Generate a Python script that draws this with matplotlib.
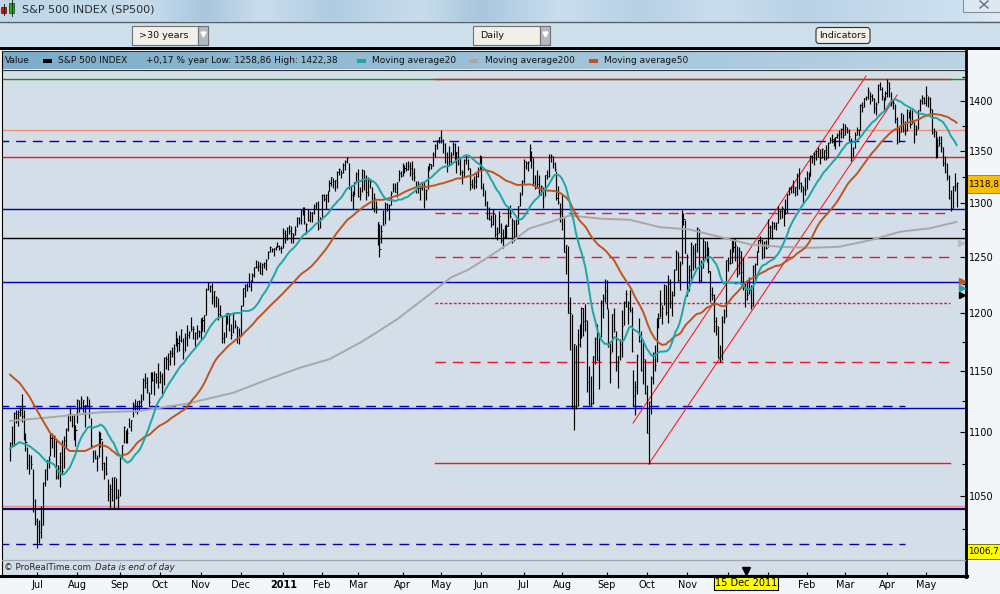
import numpy as np
import pandas as pd
import matplotlib
matplotlib.use("Agg")
import matplotlib.pyplot as plt
from matplotlib.patches import Rectangle, FancyBboxPatch
from matplotlib.ticker import NullFormatter

# ---- S&P 500 daily bars, 11 Jun 2010 .. 23 May 2012 ----
hi_2010 = [1092, 1105, 1116, 1118, 1118, 1120, 1131, 1118, 1099, 1088, 1083, 1082, 1071, 1048,
           1033, 1032, 1042, 1061, 1071, 1078, 1081, 1099, 1099, 1098, 1094, 1074, 1084, 1094, 1097, 1103, 1115, 1120, 1115, 1115, 1106,
           1127, 1126, 1129, 1126, 1122, 1129, 1127, 1111, 1086, 1086, 1082, 1101, 1100, 1093, 1076, 1081, 1063, 1059, 1065, 1065, 1064, 1055,
           1081, 1090, 1105, 1102, 1103, 1111, 1110, 1124, 1127, 1125, 1126, 1131, 1144, 1148, 1145, 1133, 1149, 1149, 1150, 1148, 1157,
           1150, 1148, 1162, 1163, 1165, 1168, 1170, 1173, 1184, 1178, 1181, 1186, 1178, 1182, 1189, 1184, 1196, 1188, 1183, 1189, 1185,
           1195, 1196, 1198, 1222, 1227, 1224, 1226, 1219, 1215, 1213, 1207, 1197, 1183, 1200, 1200, 1198, 1190, 1199, 1194, 1188, 1187,
           1207, 1222, 1225, 1226, 1235, 1229, 1235, 1241, 1247, 1246, 1245, 1244, 1245, 1248, 1255, 1260, 1258, 1258, 1260, 1263, 1261, 1260]
lo_2010 = [1077, 1089, 1089, 1107, 1105, 1113, 1108, 1094, 1085, 1071, 1067, 1071, 1038, 1028,
           1011, 1015, 1018, 1028, 1058, 1062, 1072, 1081, 1087, 1080, 1063, 1063, 1057, 1067, 1072, 1087, 1101, 1109, 1104, 1094, 1089,
           1107, 1116, 1119, 1116, 1104, 1120, 1111, 1088, 1076, 1079, 1069, 1080, 1088, 1070, 1063, 1066, 1046, 1040, 1046, 1040, 1048, 1040,
           1050, 1080, 1091, 1091, 1091, 1104, 1101, 1112, 1116, 1115, 1118, 1120, 1126, 1136, 1132, 1121, 1131, 1142, 1130, 1140, 1136,
           1140, 1131, 1138, 1152, 1151, 1155, 1162, 1155, 1171, 1166, 1167, 1175, 1160, 1167, 1171, 1178, 1184, 1177, 1171, 1177, 1179,
           1177, 1184, 1183, 1198, 1220, 1218, 1208, 1205, 1205, 1194, 1197, 1174, 1174, 1179, 1190, 1184, 1177, 1182, 1187, 1174, 1173,
           1181, 1206, 1214, 1219, 1223, 1219, 1227, 1232, 1240, 1237, 1234, 1233, 1240, 1238, 1248, 1254, 1254, 1251, 1256, 1259, 1256, 1253]
cl_2010 = [1091.6, 1089.6, 1115.2, 1114.6, 1116.0, 1117.5, 1113.2, 1095.3, 1092.0, 1073.7, 1076.8, 1074.6, 1041.2, 1030.7,
           1027.4, 1022.6, 1028.1, 1060.3, 1070.3, 1077.9, 1078.8, 1095.3, 1095.2, 1096.5, 1064.9, 1071.3, 1083.5, 1069.6, 1093.7, 1102.7, 1115.0, 1113.8, 1106.1, 1101.5, 1101.6,
           1125.9, 1120.5, 1127.2, 1125.8, 1121.6, 1127.8, 1121.1, 1089.5, 1083.6, 1079.3, 1079.4, 1092.5, 1094.2, 1075.6, 1071.7, 1067.4, 1051.9, 1055.3, 1047.2, 1064.6, 1048.9, 1049.3,
           1080.3, 1090.1, 1104.5, 1091.8, 1098.9, 1104.2, 1109.6, 1121.9, 1121.1, 1125.1, 1124.7, 1125.6, 1142.7, 1139.8, 1134.3, 1124.8, 1148.7, 1142.2, 1147.7, 1144.7, 1141.2,
           1146.2, 1137.0, 1160.8, 1160.0, 1158.1, 1165.2, 1165.3, 1169.8, 1178.1, 1173.8, 1176.2, 1184.7, 1165.9, 1178.2, 1180.3, 1183.1, 1185.6, 1185.6, 1182.5, 1183.8, 1183.3,
           1184.4, 1193.6, 1198.0, 1221.1, 1225.9, 1223.3, 1213.4, 1218.7, 1213.5, 1199.2, 1197.8, 1178.3, 1178.6, 1196.7, 1199.7, 1197.8, 1180.7, 1198.4, 1189.4, 1187.8, 1180.6,
           1206.1, 1221.5, 1224.7, 1223.1, 1223.8, 1228.3, 1233.0, 1240.4, 1240.5, 1241.6, 1235.2, 1242.9, 1243.9, 1247.1, 1254.6, 1258.8, 1256.8, 1257.5, 1258.5, 1259.8, 1257.6, 1257.6]

hi_2011 = [1276, 1274, 1277, 1279, 1278, 1272, 1278, 1287, 1287, 1293, 1296, 1296, 1281, 1294, 1292, 1291, 1299, 1301, 1302, 1287,
           1308, 1308, 1308, 1311, 1322, 1325, 1324, 1322, 1330, 1333, 1331, 1338, 1341, 1344, 1338, 1316, 1311, 1320, 1329,
           1332, 1315, 1332, 1331, 1327, 1325, 1323, 1315, 1309, 1302, 1282, 1280, 1279, 1293, 1301, 1300, 1299, 1311, 1319, 1319, 1320, 1331, 1330,
           1338, 1336, 1339, 1340, 1339, 1340, 1333, 1321, 1321, 1315, 1320, 1320, 1313, 1335, 1338, 1337, 1349, 1357, 1361, 1364,
           1370.6, 1362, 1358, 1349, 1355, 1349, 1359, 1358, 1349, 1355, 1343, 1331, 1342, 1346, 1342, 1333, 1323, 1326, 1328, 1334, 1346,
           1345, 1319, 1312, 1302, 1296, 1288, 1294, 1289, 1277, 1292, 1281, 1275, 1279, 1280, 1296, 1298, 1286, 1284, 1285, 1297, 1310, 1322,
           1342, 1340, 1340, 1356.5, 1350, 1343, 1327, 1331, 1327, 1317, 1315, 1327, 1331, 1347, 1347, 1345, 1339, 1330, 1316, 1300,
           1308, 1286, 1261, 1260, 1214, 1199, 1173, 1172, 1186, 1190, 1205, 1204, 1208, 1194, 1154, 1146, 1162, 1179, 1190, 1182, 1211, 1216, 1230,
           1229, 1203, 1174, 1199, 1204, 1184, 1163, 1177, 1202, 1210, 1220, 1210, 1220, 1205, 1151, 1142, 1164, 1195, 1184, 1175, 1160,
           1138, 1125, 1146, 1166, 1172, 1195, 1200, 1220, 1207, 1225, 1224, 1233, 1230, 1219, 1239, 1256, 1254, 1246, 1293, 1290, 1284,
           1252, 1242, 1263, 1261, 1262, 1277, 1275, 1247, 1267, 1264, 1264, 1259, 1237, 1223, 1216, 1196, 1188, 1172, 1197, 1203, 1247,
           1250, 1257, 1267, 1267, 1267, 1260, 1259, 1255, 1250, 1226, 1228, 1232, 1224, 1242, 1244, 1255, 1265, 1269, 1266, 1264, 1265]
lo_2011 = [1258, 1262, 1265, 1271, 1262, 1262, 1270, 1277, 1280, 1280, 1288, 1280, 1271, 1283, 1282, 1282, 1289, 1294, 1274, 1276,
           1287, 1302, 1294, 1301, 1311, 1316, 1314, 1311, 1314, 1327, 1324, 1328, 1331, 1338, 1313, 1302, 1294, 1307, 1320,
           1305, 1303, 1310, 1312, 1303, 1306, 1314, 1294, 1291, 1290, 1261, 1250, 1262, 1279, 1280, 1292, 1284, 1298, 1310, 1310, 1305, 1321, 1325,
           1326, 1328, 1330, 1331, 1326, 1322, 1321, 1309, 1309, 1303, 1312, 1295, 1303, 1313, 1331, 1332, 1335, 1344, 1352, 1358,
           1358, 1348, 1338, 1329, 1336, 1338, 1346, 1339, 1328, 1336, 1327, 1318, 1325, 1337, 1331, 1312, 1314, 1313, 1314, 1325, 1331,
           1313, 1306, 1297, 1285, 1284, 1277, 1279, 1268, 1265, 1272, 1262, 1258, 1267, 1267, 1278, 1286, 1262, 1264, 1268, 1280, 1297, 1307,
           1319, 1332, 1330, 1340, 1333, 1317, 1313, 1314, 1306, 1307, 1295, 1306, 1323, 1325, 1339, 1333, 1330, 1303, 1299, 1282,
           1274, 1254, 1234, 1200, 1168, 1119, 1101.5, 1119, 1121, 1170, 1178, 1180, 1184, 1133, 1122, 1121, 1123, 1156, 1159, 1135, 1179, 1195, 1209,
           1203, 1170, 1140, 1166, 1183, 1150, 1136, 1159, 1162, 1189, 1205, 1190, 1201, 1166, 1121, 1114, 1131, 1175, 1150, 1139, 1131,
           1099, 1074.8, 1115, 1139, 1150, 1158, 1187, 1196, 1190, 1207, 1198, 1191, 1204, 1197, 1215, 1238, 1228, 1220, 1243, 1279, 1253,
           1215, 1219, 1226, 1238, 1240, 1254, 1226, 1227, 1240, 1248, 1245, 1235, 1209, 1211, 1183, 1181, 1161, 1158, 1159, 1191, 1196,
           1237, 1243, 1244, 1254, 1246, 1232, 1234, 1227, 1220, 1205, 1211, 1216, 1203, 1206, 1226, 1242, 1254, 1262, 1248, 1249, 1257]
cl_2011 = [1271.9, 1270.2, 1276.6, 1273.9, 1271.5, 1269.8, 1274.5, 1286.0, 1283.8, 1293.2, 1295.0, 1281.9, 1280.3, 1283.4, 1290.8, 1291.2, 1296.6, 1299.5, 1276.3, 1286.1,
           1307.6, 1304.0, 1307.1, 1310.9, 1319.1, 1324.6, 1320.9, 1321.9, 1329.2, 1332.3, 1328.0, 1336.3, 1340.4, 1343.0, 1315.4, 1307.4, 1306.1, 1319.9, 1327.2,
           1306.3, 1308.4, 1331.0, 1321.2, 1310.1, 1321.8, 1320.0, 1295.1, 1304.3, 1296.4, 1281.9, 1256.9, 1273.7, 1279.2, 1298.4, 1293.8, 1297.5, 1309.7, 1313.8, 1310.2, 1319.4, 1328.3, 1325.8,
           1332.4, 1332.9, 1332.6, 1335.5, 1333.5, 1328.2, 1324.5, 1314.2, 1314.4, 1314.5, 1319.7, 1305.1, 1312.6, 1330.4, 1337.4, 1335.3, 1347.2, 1355.7, 1360.5, 1363.6,
           1361.2, 1356.6, 1347.3, 1335.1, 1340.2, 1346.3, 1357.2, 1342.1, 1348.7, 1337.8, 1329.5, 1329.0, 1340.7, 1343.6, 1333.3, 1317.4, 1316.3, 1320.5, 1325.7, 1331.1, 1345.2,
           1314.6, 1312.9, 1300.2, 1286.1, 1284.9, 1279.6, 1289.0, 1271.0, 1271.8, 1287.9, 1265.4, 1267.6, 1271.5, 1278.4, 1295.5, 1287.1, 1283.5, 1268.5, 1280.1, 1296.7, 1307.4, 1320.6,
           1339.7, 1337.9, 1339.2, 1353.2, 1343.8, 1319.5, 1313.6, 1317.7, 1308.9, 1316.1, 1305.4, 1326.7, 1325.8, 1343.8, 1345.0, 1337.4, 1331.9, 1304.9, 1300.7, 1292.3,
           1286.9, 1254.1, 1260.3, 1200.1, 1199.4, 1119.5, 1172.5, 1120.8, 1172.6, 1178.8, 1204.5, 1192.8, 1193.9, 1140.7, 1123.5, 1123.8, 1162.4, 1177.6, 1159.3, 1176.8, 1210.1, 1212.9, 1218.9,
           1204.4, 1174.0, 1165.2, 1198.6, 1185.9, 1154.2, 1162.3, 1172.9, 1188.7, 1209.1, 1216.0, 1204.1, 1202.1, 1166.8, 1129.6, 1136.4, 1163.0, 1175.4, 1151.1, 1160.4, 1131.4,
           1099.2, 1124.0, 1144.0, 1165.0, 1155.5, 1194.9, 1195.5, 1207.3, 1203.7, 1224.6, 1200.9, 1225.4, 1209.9, 1215.4, 1238.3, 1254.2, 1229.1, 1242.0, 1284.6, 1285.1, 1253.3,
           1218.3, 1237.9, 1261.2, 1253.2, 1261.1, 1275.9, 1229.1, 1239.7, 1263.9, 1251.8, 1257.8, 1236.9, 1216.1, 1215.7, 1193.0, 1188.0, 1161.8, 1158.7, 1192.6, 1195.2, 1247.0,
           1244.6, 1244.3, 1257.1, 1258.5, 1261.0, 1234.4, 1255.2, 1236.5, 1225.7, 1211.8, 1215.8, 1219.7, 1205.4, 1241.3, 1243.7, 1254.0, 1265.3, 1265.4, 1249.6, 1263.0, 1257.6]

hi_2012 = [1285, 1279, 1283, 1282, 1282, 1297, 1293, 1297, 1294, 1304, 1308, 1315, 1316, 1322, 1315, 1328, 1333, 1320, 1316, 1325,
           1330, 1329, 1346, 1345, 1349, 1351, 1354, 1352, 1353, 1351, 1356, 1359, 1364, 1367, 1363, 1364, 1368, 1371, 1373, 1378,
           1377, 1374, 1372, 1363, 1354, 1369, 1374, 1372, 1397, 1399, 1403, 1405, 1414, 1409, 1407, 1403, 1399, 1417, 1420, 1414, 1404, 1410,
           1422.4, 1419, 1409, 1401, 1397, 1384, 1375, 1388, 1387, 1380, 1392, 1390, 1392, 1391, 1379, 1376, 1391, 1402, 1406, 1404,
           1415, 1405, 1404, 1392, 1373, 1370, 1363, 1365, 1365, 1354, 1345, 1338, 1327, 1312, 1316, 1328, 1320]
lo_2012 = [1258.9, 1267, 1266, 1275, 1274, 1281, 1285, 1286, 1278, 1289, 1290, 1307, 1309, 1309, 1306, 1307, 1313, 1310, 1300, 1307,
           1313, 1322, 1326, 1338, 1336, 1341, 1344, 1337, 1343, 1341, 1341, 1343, 1358, 1358, 1355, 1352, 1363, 1355, 1363, 1363,
           1366, 1368, 1360, 1340, 1344, 1353, 1366, 1365, 1371, 1389, 1394, 1401, 1402, 1397, 1400, 1388, 1386, 1398, 1411, 1401, 1391, 1401,
           1404, 1404, 1395, 1392, 1378, 1357, 1359, 1369, 1369, 1366, 1370, 1383, 1373, 1378, 1358, 1366, 1372, 1390, 1397, 1397,
           1395, 1394, 1388, 1367, 1364, 1343, 1344, 1355, 1349, 1335, 1328, 1322, 1304, 1292, 1295, 1311, 1296]
cl_2012 = [1277.1, 1277.3, 1281.1, 1277.8, 1280.7, 1292.1, 1292.5, 1295.5, 1289.1, 1293.7, 1308.0, 1314.5, 1315.4, 1316.0, 1314.7, 1326.1, 1318.4, 1316.3, 1313.0, 1312.4,
           1324.1, 1325.5, 1344.9, 1344.3, 1347.1, 1350.0, 1352.0, 1342.6, 1351.8, 1350.5, 1343.2, 1358.0, 1361.2, 1362.2, 1357.7, 1363.5, 1366.0, 1367.6, 1372.2, 1365.7,
           1374.1, 1369.6, 1364.3, 1343.4, 1352.6, 1366.0, 1370.9, 1371.1, 1396.0, 1394.3, 1402.6, 1404.2, 1409.8, 1405.5, 1402.9, 1392.8, 1397.1, 1416.5, 1412.5, 1405.5, 1403.3, 1408.5,
           1419.0, 1413.4, 1399.0, 1398.1, 1382.2, 1358.6, 1368.7, 1387.6, 1370.3, 1369.6, 1390.8, 1385.1, 1376.9, 1378.5, 1366.9, 1372.0, 1390.7, 1400.0, 1403.4, 1397.9,
           1405.8, 1402.3, 1391.6, 1369.1, 1369.6, 1363.7, 1354.6, 1358.0, 1353.4, 1338.4, 1330.7, 1324.8, 1304.9, 1295.2, 1316.0, 1316.6, 1318.9]

holidays = ['2010-07-05', '2010-09-06', '2010-11-25', '2010-12-24', '2011-01-17', '2011-02-21',
            '2011-04-22', '2011-05-30', '2011-07-04', '2011-09-05', '2011-11-24', '2011-12-26',
            '2012-01-02', '2012-01-16', '2012-02-20', '2012-04-06']

# moving averages read off the chart where the bars alone are not enough (bar number, value)
ma20_head_bar = [0, 5, 10, 15, 19]
ma20_head_val = [1087, 1092, 1089, 1083, 1076]
ma50_head_bar = [0, 5, 10, 16, 21, 26, 31, 39, 46, 49]
ma50_head_val = [1147, 1140, 1129, 1112, 1099, 1091, 1085, 1085, 1090, 1089]
ma200_bar = [0, 21, 47, 67, 92, 116, 134, 151, 166, 183, 201, 218, 229, 238, 249, 260, 270, 281,
             291, 307, 322, 338, 353, 369, 385, 400, 416, 431, 447, 463, 478, 492]
ma200_val = [1109, 1112, 1116, 1117, 1123, 1132, 1143, 1153, 1160, 1175, 1194, 1216, 1231, 1238, 1250, 1263,
             1276, 1282, 1288, 1285, 1284, 1277, 1275, 1268, 1261, 1259, 1258, 1259, 1265, 1273, 1276, 1282]

# drawn levels and trend lines
lvl_year_high = 1422.4
lvl_salmon = 1370.4
lvl_blue_dash_hi = 1360.2
lvl_red = 1343.7
lvl_blue_1 = 1293.8
lvl_red_dash_1 = 1290.3
lvl_black = 1266.8
lvl_red_dash_2 = 1249.4
lvl_blue_2 = 1227.4
lvl_red_dot = 1208.2
lvl_red_dash_3 = 1157.4
lvl_blue_dash_mid = 1120.9
lvl_blue_3 = 1119.5
lvl_red_low = 1075.5
lvl_pink = 1042.3
lvl_navy = 1040.4
lvl_blue_dash_lo = 1013.7
partial_from, partial_to, dash_to = 221, 488.5, 465
trend1_bar, trend1_val = [323.8, 444.9], [1107.3, 1425.7]
trend2_bar, trend2_val = [332, 461], [1074.8, 1406.0]

# ---------------------------------------------------------------
hi = np.array(hi_2010 + hi_2011 + hi_2012, float)
lo = np.array(lo_2010 + lo_2011 + lo_2012, float)
cl = np.array(cl_2010 + cl_2011 + cl_2012, float)
hi = np.maximum(hi, cl)
lo = np.minimum(lo, cl)
n = len(cl)
dates = pd.date_range('2010-06-11', '2012-05-23', freq=pd.offsets.CustomBusinessDay(holidays=holidays))
bars = np.arange(n)

close = pd.Series(cl)
ma20 = close.rolling(20).mean().to_numpy()
ma50 = close.rolling(50).mean().to_numpy()
ma20_x = list(ma20_head_bar[:-1]) + list(bars[19:])
ma20_y = list(ma20_head_val[:-1]) + list(ma20[19:])
ma50_x = list(ma50_head_bar[:-1]) + list(bars[49:])
ma50_y = list(ma50_head_val[:-1]) + list(ma50[49:])

RED = '#ff1414'
RED_D = '#f01430'
NAVY = '#0000b4'

W, H = 1000, 594
fig = plt.figure(figsize=(10, 5.94), dpi=100, facecolor='#f3f6f9')

# background / window chrome in pixel coordinates
bg = fig.add_axes([0, 0, 1, 1], zorder=0)
bg.axis('off')
xs = np.arange(1000)
anch_x = [0, 150, 205, 260, 330, 420, 480, 560, 640, 720, 800, 960, 1000]
anch_c = np.array([(190, 214, 232), (198, 220, 236), (168, 198, 222), (202, 222, 238), (176, 204, 226),
                   (200, 221, 236), (168, 198, 222), (202, 222, 238), (182, 208, 229), (202, 222, 238),
                   (186, 210, 230), (205, 225, 240), (225, 235, 245)]) / 255
grad = np.stack([np.interp(xs, anch_x, anch_c[:, k]) for k in range(3)], axis=-1)[None, :, :]
bg.imshow(grad, extent=(0, 1000, 21, 0), aspect='auto', interpolation='bilinear')
bg.add_patch(Rectangle((0, 21), 1000, 26, color='#cddfeb', lw=0))
bg.plot([0, 1000], [21.5, 21.5], color='#56606a', lw=1)
bg.add_patch(Rectangle((0, 46.5), 1000, 3, color='black', lw=0))
# title
bg.add_patch(Rectangle((1, 7), 5, 6, facecolor='#e01010', edgecolor='#600000', lw=0.5))
bg.plot([3.5, 3.5], [4, 15], color='#300000', lw=0.6)
bg.add_patch(Rectangle((9, 3), 5, 10, facecolor='#20b020', edgecolor='#004000', lw=0.5))
bg.plot([11.5, 11.5], [0, 16], color='#002000', lw=0.6)
bg.text(22, 9.5, 'S&P 500 INDEX (SP500)', fontsize=8, color='#2a2a2a', va='center')
bg.add_patch(Rectangle((963, -2), 40, 14, facecolor='#dfe8f0', edgecolor='#8090a0', lw=0.8))
bg.plot([980, 988], [1, 8], color='#607080', lw=1)
bg.plot([980, 988], [8, 1], color='#607080', lw=1)
# toolbar widgets
for x0, x1, label in [(132, 198, '>30 years'), (473, 540, 'Daily')]:
    bg.add_patch(Rectangle((x0, 26), x1 - x0, 19, facecolor='#f2efe8', edgecolor='#707070', lw=0.8))
    bg.add_patch(Rectangle((x1, 26), 10, 19, facecolor='#b4b8c0', edgecolor='#707070', lw=0.8))
    bg.plot([x1 + 5], [34], marker='v', ms=3.5, color='white')
    bg.text(x0 + 7, 36, label, fontsize=6.8, va='center', color='#111')
bg.add_patch(FancyBboxPatch((816, 27.5), 54, 16, boxstyle='round,pad=0,rounding_size=3',
                            facecolor='#f2efe8', edgecolor='#303030', lw=0.8))
bg.text(843, 35.5, 'Indicators', fontsize=6.8, ha='center', va='center', color='#111')
# legend row
lg = np.linspace(0, 1, 200)
c0, c1 = np.array([124, 172, 202]) / 255, np.array([186, 212, 228]) / 255
lgrad = (c0[None, :] * (1 - lg[:, None]) + c1[None, :] * lg[:, None])[None, :, :]
bg.imshow(lgrad, extent=(2, 965, 69, 51.5), aspect='auto')
LF = 6.5
bg.text(5, 60.5, 'Value', fontsize=LF, va='center', color='#111')
bg.add_patch(Rectangle((43, 59), 9, 4, color='black', lw=0))
bg.text(58, 60.5, 'S&P 500 INDEX', fontsize=LF, va='center', color='#111')
bg.text(146, 60.5, '+0,17 %', fontsize=LF, va='center', color='#111')
bg.text(188, 60.5, 'year Low: 1258,86 High: 1422,38', fontsize=LF, va='center', color='#111')
bg.add_patch(Rectangle((357, 59), 9, 4, color='#1fa5a5', lw=0))
bg.text(372, 60.5, 'Moving average20', fontsize=LF, va='center', color='#111')
bg.add_patch(Rectangle((469, 59), 9, 4, color='#a8a8a8', lw=0))
bg.text(485, 60.5, 'Moving average200', fontsize=LF, va='center', color='#111')
bg.add_patch(Rectangle((589, 59), 9, 4, color='#c0541e', lw=0))
bg.text(604, 60.5, 'Moving average50', fontsize=LF, va='center', color='#111')
bg.set_xlim(0, W)
bg.set_ylim(H, 0)

# main price panel
ax = fig.add_axes([0.002, 18 / 594, 0.964, 506 / 594], zorder=1)
ax.set_facecolor('#d3dee8')
ax.set_yscale('log')
for s in ax.spines.values():
    s.set_visible(False)

LW = 1.0


def level(y, color, x0=None, x1=None, style='-', lw=LW, z=1):
    if x0 is None:
        ax.axhline(y, color=color, lw=lw, linestyle=style, zorder=z)
    else:
        ax.plot([x0, x1], [y, y], color=color, lw=lw, linestyle=style, zorder=z)


level(lvl_year_high, '#1a8a1a')
level(lvl_year_high, RED, partial_from, partial_to, z=1.1)
level(lvl_salmon, '#f49070')
level(lvl_blue_dash_hi, NAVY, -10, dash_to, (0, (7, 5)))
level(lvl_red, RED)
level(lvl_blue_1, NAVY)
level(lvl_red_dash_1, RED_D, partial_from, partial_to, (0, (7, 5)))
level(lvl_black, 'black')
level(lvl_red_dash_2, RED_D, partial_from, partial_to, (0, (7.5, 5)))
level(lvl_blue_2, NAVY)
level(lvl_red_dot, RED_D, partial_from, partial_to, (0, (2, 1.3)))
level(lvl_red_dash_3, RED_D, partial_from, partial_to, (0, (7.5, 5)))
level(lvl_blue_dash_mid, NAVY, -10, dash_to, (0, (7, 5)))
level(lvl_blue_3, NAVY)
level(lvl_red_low, RED, partial_from, partial_to)
level(lvl_pink, '#f48890')
level(lvl_navy, '#0a0a60', lw=1.6)
level(lvl_blue_dash_lo, NAVY, -10, dash_to, (0, (7, 5)))

ax.plot(trend1_bar, trend1_val, color=RED, lw=0.75, zorder=2)
ax.plot(trend2_bar, trend2_val, color=RED, lw=0.75, zorder=2)

ax.vlines(bars, lo, hi, color='black', lw=0.85, zorder=3)
ax.hlines(cl, bars, bars + 0.55, color='black', lw=0.7, zorder=3)

ax.plot(ma200_bar, ma200_val, color='#a8a8a8', lw=1.4, zorder=4, solid_capstyle='round')
ax.plot(ma50_x, ma50_y, color='#c0541e', lw=1.4, zorder=4)
ax.plot(ma20_x, ma20_y, color='#1fa5a5', lw=1.4, zorder=4)

ax.set_xlim(-4.19, 496.85)
ax.set_ylim(990.56, 1431.97)

yt = [1050, 1100, 1150, 1200, 1250, 1300, 1350, 1400]
ax.yaxis.tick_right()
ax.set_yticks(yt)
ax.set_yticklabels([str(v) for v in yt])
ax.set_yticks([1025, 1075, 1125, 1175, 1225, 1275, 1325, 1375, 1425], minor=True)
ax.yaxis.set_minor_formatter(NullFormatter())
ax.tick_params(axis='y', which='major', direction='in', length=4, width=0.8, pad=2, labelsize=7)
ax.tick_params(axis='y', which='minor', direction='in', length=3, width=0.8)

months = dates.month.to_numpy()
starts = np.flatnonzero(np.diff(months) != 0) + 1
labels = []
for i in starts:
    d = dates[i]
    if (d.year, d.month) in [(2011, 12), (2012, 1)]:
        labels.append('')
    elif d.month == 1:
        labels.append(str(d.year))
    else:
        labels.append(d.strftime('%b'))
ax.set_xticks(starts)
ax.set_xticklabels(labels)
for t in ax.get_xticklabels():
    if t.get_text().isdigit():
        t.set_fontweight('bold')
ax.tick_params(axis='x', which='major', direction='in', length=3, width=0.8, pad=3, labelsize=7)
ax.tick_params(axis='x', which='minor', bottom=False)

# overlay: frame, tags, notes
ov = fig.add_axes([0, 0, 1, 1], zorder=3)
ov.patch.set_alpha(0)
ov.axis('off')
ov.plot([1.5, 1.5], [51, 577], color='black', lw=0.8)
ov.plot([1.5, 966], [51, 51], color='#303030', lw=0.8)
ov.plot([2, 965], [69.5, 69.5], color='#303030', lw=0.8)
ov.plot([966, 966], [51, 577], color='black', lw=2)
ov.plot([1, 967], [576, 576], color='black', lw=2.2)
ov.plot([2, 965], [560, 560], color='#a4a8ae', lw=0.9)
ov.text(4, 568, '\u00a9 ProRealTime.com', fontsize=6.3, va='center', color='#222')
ov.text(95, 568, 'Data is end of day', fontsize=6.3, va='center', style='italic', color='#222')
ov.plot([961], [243], marker='>', ms=5, color='#b8bcc2', lw=0)
ov.plot([962], [281], marker='>', ms=5, color='#c0541e', lw=0)
ov.plot([962], [288], marker='>', ms=5, color='#1fa5a5', lw=0)
ov.plot([962], [295], marker='>', ms=5, color='black', lw=0)
ov.add_patch(Rectangle((967, 175), 36, 18, facecolor='#fabe00', edgecolor='#a07800', lw=0.6))
ov.text(968, 184, '1318,8', fontsize=6.4, va='center', color='black')
ov.add_patch(Rectangle((967, 544), 36, 15, facecolor='#ffff00', edgecolor='#606000', lw=0.6))
ov.text(968, 551.5, '1006,7', fontsize=6.4, va='center', color='black')
ov.add_patch(Rectangle((714, 575), 64, 15, facecolor='#ffff00', edgecolor='black', lw=0.8))
ov.text(746, 582.5, '15 Dec 2011', fontsize=7, ha='center', va='center', color='black')
ov.plot([746], [571], marker='v', ms=6, color='black', lw=0)
ov.set_xlim(0, W)
ov.set_ylim(H, 0)

fig.savefig('out.png', dpi=100, facecolor=fig.get_facecolor())
